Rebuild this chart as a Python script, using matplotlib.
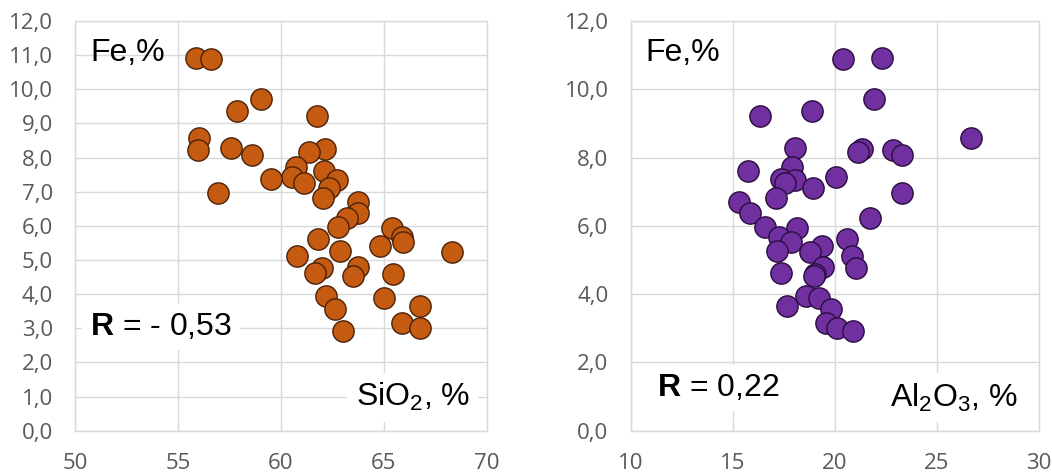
import matplotlib
matplotlib.use("Agg")
import matplotlib.pyplot as plt

plt.rcParams["mathtext.fontset"] = "custom"
plt.rcParams["mathtext.rm"] = "Liberation Sans"
plt.rcParams["mathtext.bf"] = "Liberation Sans:bold"

# Fe, % - same samples in both plots
fe = [10.93, 10.88, 9.73, 9.37, 9.23, 8.58, 8.28, 8.25, 8.22, 8.15, 8.08,
      7.73, 7.61, 7.42, 7.36, 7.33, 7.25, 7.12, 6.95, 6.82, 6.71, 6.39,
      6.22, 5.98, 5.93, 5.67, 5.61, 5.54, 5.42, 5.26, 5.22, 5.12, 4.80,
      4.77, 4.62, 4.60, 4.53, 3.95, 3.90, 3.65, 3.56, 3.15, 3.00, 2.93]

sio2 = [55.85, 56.58, 59.03, 57.88, 61.73, 56.03, 57.58, 62.12, 55.95, 61.35, 58.59,
        60.73, 62.08, 60.52, 59.50, 62.71, 61.13, 62.35, 56.95, 62.03, 63.73, 63.76,
        63.19, 62.79, 65.38, 65.87, 61.81, 65.95, 64.81, 62.87, 68.30, 60.76, 63.76,
        62.01, 61.65, 65.46, 63.52, 62.17, 65.01, 66.76, 62.63, 65.87, 66.76, 63.03]

al2o3 = [22.33, 20.39, 21.94, 18.89, 16.34, 26.67, 18.05, 21.34, 22.87, 21.13, 23.28,
         17.89, 15.77, 20.06, 17.35, 18.05, 17.56, 18.92, 23.28, 17.11, 15.31, 15.85,
         21.73, 16.58, 18.14, 17.29, 20.59, 17.84, 19.39, 17.16, 18.79, 20.83, 19.44,
         21.04, 17.35, 19.03, 18.99, 18.59, 19.23, 17.68, 19.82, 19.57, 20.10, 20.88]

def fmt_y(v, pos):
    return f"{v:.1f}".replace(".", ",")

fig = plt.figure(figsize=(10.52, 4.72), dpi=100)
ax1 = fig.add_axes([0.0716, 0.0875, 0.391, 0.868])
ax2 = fig.add_axes([0.5995, 0.0875, 0.388, 0.868])

grid_c = "#d9d9d9"
tick_font = {"family": ["Open Sans", "DejaVu Sans"], "size": 16}
big = {"family": ["Liberation Sans", "DejaVu Sans"], "size": 23}

def style(ax, xlim, xticks, ystep):
    ax.set_xlim(*xlim)
    ax.set_ylim(0, 12)
    ax.set_xticks(xticks)
    ax.set_yticks([i * ystep for i in range(int(12 / ystep) + 1)])
    ax.yaxis.set_major_formatter(plt.FuncFormatter(fmt_y))
    ax.grid(True, color=grid_c, linewidth=1)
    ax.set_axisbelow(True)
    for s in ax.spines.values():
        s.set_color(grid_c)
        s.set_linewidth(1)
    ax.tick_params(length=0, colors="#595959", pad=16)
    for lab in ax.get_xticklabels() + ax.get_yticklabels():
        lab.set_fontfamily(tick_font["family"])
        lab.set_fontsize(tick_font["size"])

style(ax1, (50, 70), [50, 55, 60, 65, 70], 1.0)
style(ax2, (10, 30), [10, 15, 20, 25, 30], 2.0)

ax1.scatter(sio2, fe, s=235, c="#C55A11", edgecolors="#4a2208", linewidths=1, zorder=3)
ax2.scatter(al2o3, fe, s=235, c="#7030A0", edgecolors="#2a0c40", linewidths=1, zorder=3)

box = dict(facecolor="white", edgecolor="none", pad=6)

ax1.text(0.036, 0.922, "Fe,%", transform=ax1.transAxes, va="center", ha="left", **big, zorder=4)
ax1.text(0.036, 0.253, r"$\mathbf{R}$ = - 0,53", transform=ax1.transAxes, va="center", ha="left",
         bbox=box, zorder=4, **big)
ax1.text(0.959, 0.082, "SiO$_2$, %", transform=ax1.transAxes, va="center", ha="right",
         bbox=box, zorder=4, **big)

ax2.text(0.037, 0.922, "Fe,%", transform=ax2.transAxes, va="center", ha="left", **big, zorder=4)
ax2.text(0.065, 0.104, r"$\mathbf{R}$ = 0,22", transform=ax2.transAxes, va="center", ha="left",
         bbox=box, zorder=4, **big)
ax2.text(0.949, 0.08, "Al$_2$O$_3$, %", transform=ax2.transAxes, va="center", ha="right",
         bbox=box, zorder=4, **big)

fig.savefig("out.png", dpi=100)
